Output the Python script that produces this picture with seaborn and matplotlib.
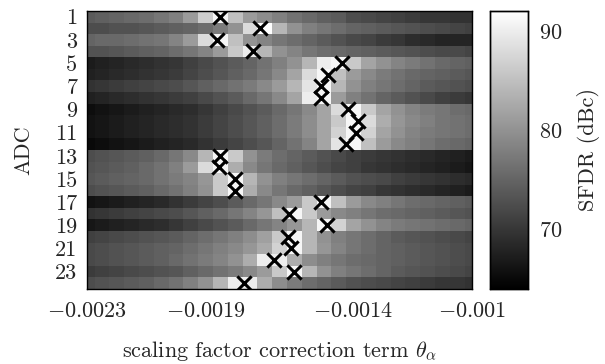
import numpy as np
import pandas as pd
import matplotlib
matplotlib.use("Agg")
import matplotlib.pyplot as plt
import seaborn as sns

# ---------------- data ----------------
theta_grid = np.round(np.linspace(-0.0023, -0.001, 27), 5)  # 27 columns, step 5e-5
adc_ids = list(range(1, 25))

sfdr_rows = [
    [74, 74.5, 75, 75.5, 76, 77, 78, 81, 86.5, 91, 85, 81, 79.5, 78, 76.5, 75.5, 74.5, 74, 72.5, 72, 71.5, 71, 70.5, 70, 70, 69.5, 69.5],
    [72.5, 72.5, 73, 73, 73.5, 74, 74.5, 75, 76, 77.5, 80, 88, 92, 84, 80, 78, 77, 76, 75, 74.5, 74, 73.5, 73, 72.5, 72, 71.5, 71],
    [75, 75.5, 75.5, 76, 76.5, 77, 78.5, 81, 88, 91, 85, 80, 78.5, 77, 76, 75, 74, 73, 72, 71.5, 70.5, 70, 69, 68.5, 68, 68, 68],
    [73, 73, 73.5, 74, 74.5, 75, 76, 77, 78.5, 81, 86, 90, 84, 80, 78.5, 77, 76, 75.5, 75, 74.5, 74, 73.5, 73, 72.5, 72, 72, 71.5],
    [67, 67.5, 68, 68.5, 69, 69.5, 70, 71, 72, 73, 74, 75, 76.5, 78, 80, 84, 90, 91, 86, 82, 80, 78.5, 77.5, 76.5, 75.5, 75, 74.5],
    [67.5, 68, 68.5, 69, 69.5, 70, 70.5, 71.5, 72.5, 73.5, 74.5, 75.5, 77, 79, 82, 88, 91, 85, 81, 79, 77.5, 76.5, 75.5, 75, 74.5, 74, 73.5],
    [69.5, 70, 70.5, 71, 71.5, 72, 72.5, 73.5, 74.5, 75.5, 76.5, 77.5, 79, 81, 84, 89, 91, 84, 80, 78, 77, 76, 75, 74, 73.5, 73, 72.5],
    [67.5, 68, 68.5, 69, 69.5, 70, 70.5, 71, 72, 73, 74, 75.5, 77, 79, 82, 90, 91, 81, 78, 76.5, 75, 74, 73, 72, 71, 70.5, 70],
    [65.5, 66, 66.5, 67, 67.5, 68, 68.5, 69, 70, 71, 72, 73, 74, 75.5, 77, 79, 82, 88, 91, 86, 82, 80, 78.5, 77.5, 77, 76, 75.5],
    [66, 66.5, 67, 67.5, 68, 68.5, 69, 69.5, 70.5, 71.5, 72.5, 73.5, 74.5, 76, 77.5, 79.5, 82, 86, 91, 88, 83, 80.5, 79, 78, 77, 76.5, 76],
    [66, 66.5, 67, 67.5, 68, 68.5, 69, 69.5, 70.5, 71.5, 72.5, 73.5, 74.5, 76, 77.5, 79.5, 82, 87, 91, 87, 82, 80, 78.5, 77.5, 77, 76.5, 76],
    [65, 65.5, 66, 66.5, 67, 67.5, 68, 68.5, 69.5, 70.5, 71.5, 72.5, 73.5, 75, 76.5, 78.5, 82, 89, 91, 85, 81, 79, 78, 77, 76, 75.5, 75],
    [72.5, 73, 73.5, 74, 74.5, 75.5, 77, 79, 84, 91, 86, 80, 77.5, 76, 75, 74, 73, 72, 71, 70.5, 70, 69.5, 69, 68.5, 68, 67.5, 67],
    [73, 73.5, 74, 74.5, 75.5, 76.5, 78, 81, 88, 91, 83, 79, 77, 75.5, 74.5, 73.5, 72.5, 71.5, 71, 70, 69.5, 69, 68.5, 68, 67.5, 67, 66.5],
    [73.5, 74, 74.5, 75, 75.5, 76.5, 77.5, 78.5, 80.5, 86, 91, 84, 80, 78, 77, 76, 75, 74, 73, 72.5, 72, 71, 70.5, 70, 69.5, 69, 68.5],
    [72.5, 73, 73.5, 74, 74.5, 75.5, 76.5, 78, 80, 86, 91, 83, 79, 77, 75.5, 74.5, 73.5, 72.5, 71.5, 71, 70, 69.5, 69, 68.5, 68, 67.5, 67],
    [66, 66.5, 67, 67.5, 68, 68.5, 69.5, 70.5, 71.5, 72.5, 74, 75.5, 77, 79, 81, 86, 91, 85, 81, 79, 78, 77, 76, 75.5, 75, 74.5, 74],
    [69.5, 70, 70.5, 71, 71.5, 72, 72.5, 73.5, 74.5, 75.5, 77, 78.5, 80.5, 85, 91, 86, 81, 79, 78, 77, 76, 75.5, 75, 74.5, 74, 73.5, 73],
    [66.5, 67, 67.5, 68, 68.5, 69, 70, 71, 72, 73, 74, 75.5, 77, 78.5, 80.5, 84, 91, 87, 82, 80, 78.5, 77.5, 77, 76.5, 76, 75.5, 75],
    [71, 71.5, 72, 72.5, 73, 73.5, 74, 75, 76, 77, 78, 79.5, 81.5, 86, 91, 84, 80, 78, 77, 76, 75, 74, 73.5, 73, 72.5, 72, 71.5],
    [72, 72.5, 73, 73.5, 74, 74.5, 75, 76, 77, 78, 79, 80.5, 82.5, 87, 91, 84, 80.5, 78.5, 77, 76, 75, 74.5, 74, 73.5, 73, 72.5, 72],
    [72, 72.5, 73, 73.5, 74, 74.5, 75.5, 76.5, 77.5, 78.5, 80, 83, 90, 90, 83, 79.5, 78, 77, 76, 75.5, 75, 74.5, 74, 73.5, 73, 72.5, 72],
    [70.5, 71, 71.5, 72, 72.5, 73, 73.5, 74.5, 75.5, 76.5, 77.5, 79, 81, 86, 91, 84, 80, 78, 77, 76, 75, 74, 73.5, 73, 72.5, 72, 71.5],
    [72.5, 73, 73.5, 74, 74.5, 75.5, 76.5, 78, 80, 84, 90, 90, 83, 79.5, 77.5, 76, 75, 74, 73, 72.5, 72, 71.5, 71, 70.5, 70, 70, 69.5],
]

peak_theta = [-0.00185, -0.001716, -0.00186, -0.00174, -0.00144, -0.001486,
              -0.00151, -0.00151, -0.00142, -0.001385, -0.00139, -0.001425,
              -0.00185, -0.001855, -0.0018, -0.0018, -0.00151, -0.001618,
              -0.00149, -0.00162, -0.00161, -0.00167, -0.0016, -0.00177]

xtick_values = [-0.0023, -0.0019, -0.0014, -0.001]
xtick_labels = [r"$-0.0023$", r"$-0.0019$", r"$-0.0014$", r"$-0.001$"]
ytick_ids = list(range(1, 24, 2))
cbar_ticks = [70, 80, 90]

# ---------------- styling ----------------
sns.set_theme(style="white")
plt.rcParams["font.family"] = ["cmr10", "DejaVu Serif"]
plt.rcParams["mathtext.fontset"] = "cm"
plt.rcParams["axes.unicode_minus"] = False
FS = 16

df = pd.DataFrame(sfdr_rows, index=adc_ids, columns=theta_grid)

fig = plt.figure(figsize=(6.05, 3.64), dpi=100)
ax = fig.add_axes([0.144, 0.206, 0.636, 0.764])
cax = fig.add_axes([0.810, 0.206, 0.063, 0.764])

step = theta_grid[1] - theta_grid[0]
def pos(t):
    return (np.asarray(t) - theta_grid[0]) / step + 0.5

sns.heatmap(df, ax=ax, cbar_ax=cax, cmap="gray", vmin=64, vmax=92,
            xticklabels=False, yticklabels=False,
            cbar_kws={"ticks": cbar_ticks})

markers = pd.DataFrame({"x": pos(peak_theta), "y": np.array(adc_ids) - 0.5})
sns.scatterplot(data=markers, x="x", y="y", ax=ax, marker="x", s=105,
                color="black", linewidth=2.2, zorder=5, legend=False)

ax.set_xlim(pos(-0.0023), pos(-0.001))
ax.set_ylim(24, 0)
ax.set_xticks(pos(xtick_values))
ax.set_xticklabels(xtick_labels, fontsize=FS)
ax.set_yticks(np.array(ytick_ids) - 0.5)
ax.set_yticklabels([str(i) for i in ytick_ids], fontsize=FS, rotation=0)
ax.tick_params(axis="both", direction="in", top=True, right=True,
               color="#d8d8d8", length=5, width=0.8)
ax.tick_params(axis="x", pad=9)
ax.tick_params(axis="y", pad=7)
for sp in ax.spines.values():
    sp.set_visible(True)
    sp.set_color("black")
    sp.set_linewidth(1.0)

ax.set_xlabel(r"scaling factor correction term $\theta_\alpha$", fontsize=FS,
              labelpad=13, visible=True)
ax.set_ylabel("ADC", fontsize=FS, labelpad=16, visible=True)

cax.tick_params(direction="in", left=True, right=True, color="#aaaaaa",
                length=5, labelsize=FS, pad=8)
cax.set_yticklabels([f"${t}$" for t in cbar_ticks])
cax.set_ylabel("SFDR (dBc)", fontsize=FS, labelpad=10)
for sp in cax.spines.values():
    sp.set_visible(True)
    sp.set_color("black")
    sp.set_linewidth(1.0)

fig.savefig("out.png", dpi=100)
